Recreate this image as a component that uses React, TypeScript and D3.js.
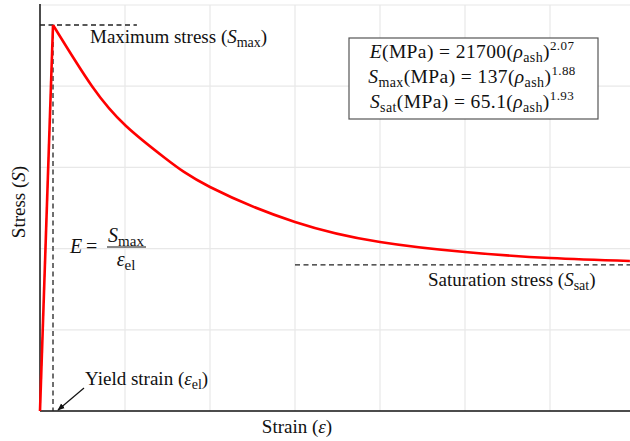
import React from "react";
import { scaleLinear, line, curveNatural, curveLinear } from "d3";

// stress-strain curve (arbitrary units)
const riseStrain = [0, 0.153];
const riseStress = [0, 4.754];
const decayStrain = [0.153, 0.612, 1.012, 1.47, 2.0, 3.0, 4.0, 5.0, 6.0, 6.94];
const decayStress = [4.754, 4.0, 3.51, 3.116, 2.759, 2.328, 2.081, 1.958, 1.884, 1.847];

const maxStress = 4.754;
const maxStressLineEnd = 1.14;
const yieldStrain = 0.153;
const satStress = 1.8;
const satLineStart = 3.0;

const gridXs = [1, 2, 3, 4, 5, 6, 7];
const gridYs = [1, 2, 3, 4, 5];

const W = 630;
const H = 441;
const margin = { top: 5, right: -5, bottom: 30, left: 40 };
const serif = "'Liberation Serif', 'Times New Roman', serif";

const App = () => {
  const x = scaleLinear()
    .domain([0, 7])
    .range([margin.left, W - margin.right]);
  const y = scaleLinear()
    .domain([0, 5])
    .range([H - margin.bottom, margin.top]);

  const riseLine = line<number>()
    .x((d, i) => x(riseStrain[i]))
    .y((d) => y(d))
    .curve(curveLinear);
  const decayLine = line<number>()
    .x((d, i) => x(decayStrain[i]))
    .y((d) => y(d))
    .curve(curveNatural);

  const x0 = x(0);
  const y0 = y(0);

  return (
    <svg
      width={W}
      height={H}
      style={{ position: "absolute", left: 0, top: 0, background: "#fff" }}
      fontFamily={serif}
    >
      <defs>
        <marker
          id="arrow"
          viewBox="0 0 10 10"
          refX="9"
          refY="5"
          markerWidth="6"
          markerHeight="6"
          orient="auto"
        >
          <path d="M0,1 L10,5 L0,9 z" fill="#111" />
        </marker>
      </defs>

      {/* grid */}
      {gridXs.map((g) => (
        <line
          key={"gx" + g}
          x1={x(g)}
          x2={x(g)}
          y1={y(0)}
          y2={y(5)}
          stroke="#e8e8e8"
          strokeWidth={1.2}
        />
      ))}
      {gridYs.map((g) => (
        <line
          key={"gy" + g}
          x1={x0}
          x2={W}
          y1={y(g)}
          y2={y(g)}
          stroke="#e8e8e8"
          strokeWidth={1.2}
        />
      ))}

      {/* axes */}
      <line x1={x0} x2={x0} y1={y(5) - 1} y2={y0} stroke="#111" strokeWidth={1.5} />
      <line x1={x0} x2={W} y1={y0} y2={y0} stroke="#111" strokeWidth={1.5} />

      {/* dashed reference lines */}
      <line
        x1={x0}
        x2={x(maxStressLineEnd)}
        y1={y(maxStress)}
        y2={y(maxStress)}
        stroke="#222"
        strokeWidth={1.3}
        strokeDasharray="5,3.5"
      />
      <line
        x1={x(yieldStrain)}
        x2={x(yieldStrain)}
        y1={y(maxStress)}
        y2={y0}
        stroke="#222"
        strokeWidth={1.3}
        strokeDasharray="5,3.5"
      />
      <line
        x1={x(satLineStart)}
        x2={W}
        y1={y(satStress)}
        y2={y(satStress)}
        stroke="#222"
        strokeWidth={1.3}
        strokeDasharray="5,3.5"
      />

      {/* curve */}
      <path d={riseLine(riseStress) || ""} fill="none" stroke="#ff0000" strokeWidth={2.6} />
      <path
        d={decayLine(decayStress) || ""}
        fill="none"
        stroke="#ff0000"
        strokeWidth={2.6}
        strokeLinejoin="round"
      />

      {/* annotations */}
      <text x={90} y={43} fontSize={19} fill="#111">
        Maximum stress (<tspan fontStyle="italic">S</tspan>
        <tspan fontSize={14} dy={4}>max</tspan>
        <tspan dy={-4}>)</tspan>
      </text>

      <rect x={349} y={38} width={249} height={81} fill="#fff" stroke="#555" strokeWidth={1.2} />
      <g fontSize={19.5} fill="#111" textAnchor="middle" letterSpacing={0.4}>
        <text x={472} y={58}>
          <tspan fontStyle="italic">E</tspan>(MPa) = 21700(<tspan fontStyle="italic">ρ</tspan>
          <tspan fontSize={14} dy={4}>ash</tspan>
          <tspan dy={-4}>)</tspan>
          <tspan fontSize={13} dy={-8}>2.07</tspan>
        </text>
        <text x={472} y={83}>
          <tspan fontStyle="italic">S</tspan>
          <tspan fontSize={14} dy={4}>max</tspan>
          <tspan dy={-4}>(MPa) = 137(</tspan>
          <tspan fontStyle="italic">ρ</tspan>
          <tspan fontSize={14} dy={4}>ash</tspan>
          <tspan dy={-4}>)</tspan>
          <tspan fontSize={13} dy={-8}>1.88</tspan>
        </text>
        <text x={472} y={108}>
          <tspan fontStyle="italic">S</tspan>
          <tspan fontSize={14} dy={4}>sat</tspan>
          <tspan dy={-4}>(MPa) = 65.1(</tspan>
          <tspan fontStyle="italic">ρ</tspan>
          <tspan fontSize={14} dy={4}>ash</tspan>
          <tspan dy={-4}>)</tspan>
          <tspan fontSize={13} dy={-8}>1.93</tspan>
        </text>
      </g>

      <g fill="#111" fontSize={20}>
        <text x={70} y={253} fontStyle="italic">E</text>
        <text x={86} y={253}>=</text>
        <text x={126} y={242} textAnchor="middle">
          <tspan fontStyle="italic">S</tspan>
          <tspan fontSize={15} dy={4}>max</tspan>
        </text>
        <line x1={107} x2={146} y1={247} y2={247} stroke="#111" strokeWidth={1} />
        <text x={126} y={266} textAnchor="middle">
          <tspan fontStyle="italic">ε</tspan>
          <tspan fontSize={15} dy={4}>el</tspan>
        </text>
      </g>

      <text x={85} y={385} fontSize={19} fill="#111">
        Yield strain (<tspan fontStyle="italic">ε</tspan>
        <tspan fontSize={14} dy={4}>el</tspan>
        <tspan dy={-4}>)</tspan>
      </text>
      <line
        x1={84}
        y1={388}
        x2={58}
        y2={410}
        stroke="#111"
        strokeWidth={1.2}
        markerEnd="url(#arrow)"
      />

      <text x={428} y={286} fontSize={19} fill="#111">
        Saturation stress (<tspan fontStyle="italic">S</tspan>
        <tspan fontSize={14} dy={4}>sat</tspan>
        <tspan dy={-4}>)</tspan>
      </text>

      {/* axis titles */}
      <text x={297} y={433} fontSize={19} fill="#111" textAnchor="middle">
        Strain (<tspan fontStyle="italic">ε</tspan>)
      </text>
      <text
        transform="translate(25,202) rotate(-90)"
        fontSize={19}
        fill="#111"
        textAnchor="middle"
      >
        Stress (<tspan fontStyle="italic">S</tspan>)
      </text>
    </svg>
  );
};

export default App;
